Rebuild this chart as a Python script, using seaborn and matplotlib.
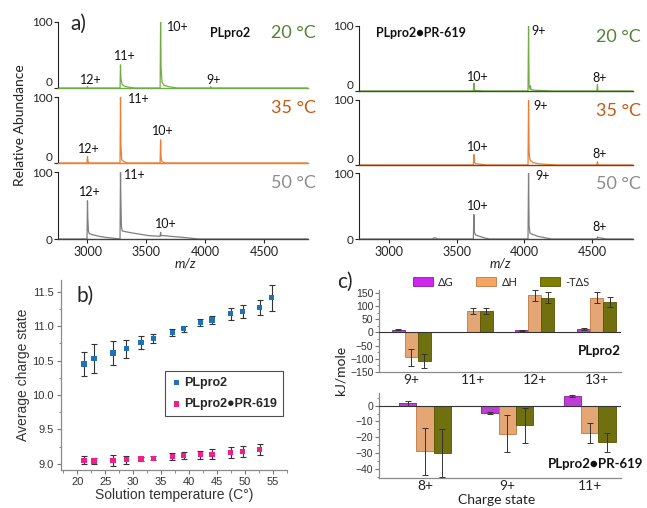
import numpy as np
import pandas as pd
import matplotlib
matplotlib.use("Agg")
import matplotlib.pyplot as plt
from matplotlib.patches import Patch
from matplotlib.container import BarContainer
from matplotlib.ticker import MultipleLocator
import seaborn as sns

sns.set_theme(style="ticks")
plt.rcParams['font.family'] = ['Lato', 'DejaVu Sans']
ARIAL = ['Liberation Sans', 'DejaVu Sans']

# ---------------- data: panel a (mass spectra) ----------------
apo20_mz = [2750, 2996, 3000, 3004, 3276, 3280, 3284, 3292, 3310, 3340, 3400,
            3616, 3620, 3624, 3632, 3650, 3690, 3760, 4041, 4045, 4049, 4870]
apo20_ab = [0, 0, 2, 0, 0, 35, 14, 6, 3, 1.5, 0,
            0, 100, 30, 9, 4, 2, 0, 0, 2, 0, 0]
apo35_mz = [2750, 2996, 3000, 3004, 3010, 3276, 3280, 3284, 3290, 3310, 3340,
            3616, 3620, 3624, 3632, 3660, 4870]
apo35_ab = [0, 0, 10, 3, 0, 0, 100, 25, 5, 2, 0,
            0, 35, 8, 2, 0, 0]
apo50_mz = [2750, 2996, 3000, 3003, 3008, 3015, 3050, 3100, 3150, 3200, 3250,
            3276, 3280, 3283, 3288, 3295, 3320, 3380, 3450, 3520, 3616, 3620,
            3624, 3650, 3700, 3780, 3860, 3940, 4870]
apo50_ab = [0, 0, 57, 30, 12, 8, 6, 4, 2.5, 1.5, 0.5,
            0, 100, 60, 18, 12, 11, 9, 7, 5, 4, 10,
            5, 5, 4, 3, 1.5, 0, 0]

holo20_mz = [2780, 3623, 3627, 3631, 3700, 4026, 4030, 4034, 4040, 4044, 4048,
             4060, 4100, 4200, 4534, 4538, 4542, 4800]
holo20_ab = [0, 0, 12, 1, 0, 0, 100, 8, 3, 8, 2,
             1.5, 1, 0, 0, 10, 0, 0]
holo35_mz = [2780, 3623, 3627, 3631, 3640, 3680, 3720, 4026, 4030, 4034, 4040,
             4060, 4100, 4160, 4240, 4534, 4538, 4542, 4800]
holo35_ab = [0, 0, 16, 4, 2, 1, 0, 0, 100, 20, 8,
             4, 2, 1, 0, 0, 5, 0, 0]
holo50_mz = [2780, 3320, 3330, 3345, 3360, 3623, 3627, 3631, 3640, 3670, 3700,
             3740, 4026, 4030, 4034, 4040, 4060, 4100, 4150, 4200, 4534, 4538,
             4545, 4580, 4600, 4800]
holo50_ab = [0, 0, 1.5, 1.5, 0, 0, 37, 10, 6, 4, 2,
             0, 0, 100, 20, 9, 7, 4, 2, 0, 0, 3,
             2, 1, 0, 0]

temps_label = ["20 °C", "35 °C", "50 °C"]
mz_ticks = [3000, 3500, 4000, 4500]

# peak labels: (text, m/z, abundance)
apo_labels = [
    [("12+", 3025, 12), ("11+", 3314, 48), ("10+", 3763, 92), ("9+", 4068, 12)],
    [("12+", 3008, 21), ("11+", 3432, 97), ("10+", 3640, 48)],
    [("12+", 3017, 70), ("11+", 3398, 95), ("10+", 3661, 22)],
]
holo_labels = [
    [("10+", 3657, 22), ("9+", 4101, 92), ("8+", 4553, 20)],
    [("10+", 3657, 28), ("9+", 4116, 91), ("8+", 4553, 17)],
    [("10+", 3653, 50), ("9+", 4131, 95), ("8+", 4553, 18)],
]

# ---------------- data: panel b ----------------
temp_apo = [21.2, 23.0, 26.4, 28.8, 31.4, 33.6, 37.0, 39.0, 42.0, 44.1, 47.4, 49.6, 52.6, 54.8]
z_apo = [10.45, 10.53, 10.61, 10.67, 10.76, 10.82, 10.91, 10.96, 11.05, 11.09, 11.18, 11.21, 11.27, 11.41]
err_apo = [0.18, 0.21, 0.18, 0.13, 0.09, 0.07, 0.05, 0.04, 0.05, 0.06, 0.09, 0.09, 0.11, 0.19]
temp_holo = [21.2, 23.0, 26.4, 28.8, 31.4, 33.6, 37.0, 39.0, 42.0, 44.1, 47.4, 49.6, 52.6]
z_holo = [9.05, 9.04, 9.05, 9.06, 9.07, 9.08, 9.11, 9.12, 9.13, 9.14, 9.17, 9.18, 9.21]
err_holo = [0.06, 0.05, 0.08, 0.06, 0.03, 0.03, 0.05, 0.05, 0.06, 0.07, 0.08, 0.08, 0.08]

# ---------------- data: panel c ----------------
terms = ["ΔG", "ΔH", "-TΔS"]
top_charges = ["9+", "11+", "12+", "13+"]
top_dG = [11, 2, 9, 14]
top_dG_err = [3, 1, 2, 3]
top_dH = [-95, 81, 141, 132]
top_dH_err = [33, 11, 21, 21]
top_TdS = [-108, 80, 131, 116]
top_TdS_err = [28, 11, 21, 20]

bot_charges = ["8+", "9+", "11+"]
bot_dG = [1.5, -4.8, 6.3]
bot_dG_err = [1.5, 0.5, 0.7]
bot_dH = [-28.8, -17.7, -17.0]
bot_dH_err = [15, 11.6, 6.3]
bot_TdS = [-30.0, -12.4, -23.2]
bot_TdS_err = [15, 11, 6]

# ---------------- styling ----------------
W, H = 647, 508
line_cols = ['#70ad47', '#ed7d31', '#7f7f7f']
text_cols = ['#548235', '#c55a11', '#8c8c8c']
base_cols_holo = ['#375623', '#843c0c', '#7f7f7f']
bar_cols = ['#d024f2', '#f5a462', '#808000']
bar_edges = ['#8a1aa0', '#c07840', '#555500']
blue = '#1f72b8'
pink = '#f0208a'


def rect(x0, y0, x1, y1):
    return [x0 / W, 1 - y1 / H, (x1 - x0) / W, (y1 - y0) / H]


fig = plt.figure(figsize=(W / 100, H / 100), dpi=100)

rows_left = [(22, 88), (97, 163), (172, 239)]
rows_right = [(26, 91), (100, 165), (173, 239)]
spectra_apo = [(apo20_mz, apo20_ab), (apo35_mz, apo35_ab), (apo50_mz, apo50_ab)]
spectra_holo = [(holo20_mz, holo20_ab), (holo35_mz, holo35_ab), (holo50_mz, holo50_ab)]


def spec_panel(box, xlim, mz, ab, col, basecol, show_x):
    ax = fig.add_axes(box)
    ax.set_facecolor('none')
    sns.lineplot(x=mz, y=ab, ax=ax, color=col, linewidth=0.9,
                 estimator=None, sort=False)
    ax.set_xlim(*xlim)
    ax.set_ylim(0, 100)
    ax.spines['top'].set_visible(False)
    ax.spines['right'].set_visible(False)
    ax.spines['left'].set_color('#222222')
    ax.spines['left'].set_linewidth(0.8)
    ax.spines['bottom'].set_color(basecol)
    ax.spines['bottom'].set_linewidth(1.0)
    ax.set_yticks([0, 100])
    ax.tick_params(axis='y', direction='out', length=3, width=0.8,
                   labelsize=8.5, pad=1, colors='#222222')
    if show_x:
        ax.set_xticks(mz_ticks)
        ax.tick_params(axis='x', direction='out', length=3, width=0.8,
                       labelsize=9, pad=2, colors='#222222')
        ax.spines['bottom'].set_color('#444444')
    else:
        ax.set_xticks([])
        # keep the "0" label clear of the "100" label of the panel below
        ax.get_yticklabels()[0].set_va('bottom')
    ax.set_xlabel('')
    ax.set_ylabel('')
    return ax


for i in range(3):
    y0, y1 = rows_left[i]
    mz, ab = spectra_apo[i]
    ax = spec_panel(rect(58, y0, 308, y1), (2750, 4870), mz, ab,
                    line_cols[i], line_cols[i], i == 2)
    for t, x, y in apo_labels[i]:
        ax.text(x, y, t, ha='center', va='center', fontsize=9, color='#111111')
    ax.text(4746, 83, temps_label[i], ha='center', va='center', fontsize=13,
            color=text_cols[i], clip_on=False)
    if i == 0:
        ax.text(4212, 83, "PLpro2", ha='center', va='center', fontsize=9,
                fontweight='bold', color='#111111')

for i in range(3):
    y0, y1 = rows_right[i]
    mz, ab = spectra_holo[i]
    ax = spec_panel(rect(359, y0, 633, y1), (2780, 4800), mz, ab,
                    line_cols[i], base_cols_holo[i], i == 2)
    for t, x, y in holo_labels[i]:
        ax.text(x, y, t, ha='center', va='center', fontsize=9, color='#111111')
    ax.text(4690, 83, temps_label[i], ha='center', va='center', fontsize=13,
            color=text_cols[i], clip_on=False)
    if i == 0:
        ax.text(3234, 89, "PLpro2●PR-619", ha='center', va='center', fontsize=9,
                fontweight='bold', color='#111111')

fig.text(78 / W, 1 - 24 / H, "a)", fontsize=15, ha='center', va='center')
fig.text(20 / W, 1 - 125 / H, "Relative Abundance", rotation=90, fontsize=10,
         ha='center', va='center', color='#222222')
fig.text(185 / W, 1 - 263 / H, "m/z", style='italic', fontsize=9.5,
         ha='center', va='center', color='#222222')
fig.text(500 / W, 1 - 263 / H, "m/z", style='italic', fontsize=9.5,
         ha='center', va='center', color='#222222')

# ---------------- panel b ----------------
axb = fig.add_axes(rect(61, 280, 287, 470))
axb.set_facecolor('none')
axb.errorbar(temp_apo, z_apo, yerr=err_apo, fmt='none', ecolor='#333333',
             elinewidth=0.8, capsize=2, capthick=0.8, zorder=2)
axb.errorbar(temp_holo, z_holo, yerr=err_holo, fmt='none', ecolor='#333333',
             elinewidth=0.8, capsize=2, capthick=0.8, zorder=2)
sns.scatterplot(x=temp_apo, y=z_apo, marker='s', s=14, color=blue,
                edgecolor='none', ax=axb, label='PLpro2', zorder=3)
sns.scatterplot(x=temp_holo, y=z_holo, marker='s', s=14, color=pink,
                edgecolor='none', ax=axb, label='PLpro2●PR-619', zorder=3)
axb.set_xlim(17.1, 57.5)
axb.set_ylim(8.91, 11.67)
axb.set_xticks([20, 25, 30, 35, 40, 45, 50, 55])
axb.set_yticks([9.0, 9.5, 10.0, 10.5, 11.0, 11.5])
axb.xaxis.set_minor_locator(MultipleLocator(2.5))
axb.yaxis.set_minor_locator(MultipleLocator(0.25))
axb.set_yticklabels([f"{v:.1f}" for v in [9.0, 9.5, 10.0, 10.5, 11.0, 11.5]])
for s in ['top', 'right']:
    axb.spines[s].set_visible(False)
for s in ['left', 'bottom']:
    axb.spines[s].set_color('#8a8a8a')
    axb.spines[s].set_linewidth(0.9)
axb.tick_params(which='major', direction='out', length=3, width=0.8,
                color='#777777', labelsize=8, labelcolor='#333333', pad=2)
axb.tick_params(which='minor', direction='out', length=1.8, width=0.6,
                color='#777777')
for lbl in axb.get_xticklabels() + axb.get_yticklabels():
    lbl.set_family(ARIAL)
axb.set_xlabel("Solution temperature (C°)", fontsize=10, family=ARIAL,
               color='#333333', labelpad=0.5)
axb.set_ylabel("Average charge state", fontsize=10, family=ARIAL,
               color='#333333', labelpad=2)
leg = axb.legend(loc='upper right', bbox_to_anchor=(289 / W, 1 - 365 / H),
                 bbox_transform=fig.transFigure, frameon=True, fancybox=False,
                 edgecolor='#222222', prop={'family': ARIAL, 'weight': 'bold', 'size': 9},
                 handletextpad=0.1, borderpad=0.45, labelspacing=0.75,
                 handlelength=1.0, markerscale=1.0)
leg.get_frame().set_linewidth(0.8)
fig.text(85 / W, 1 - 296 / H, "b)", fontsize=15, ha='center', va='center')

# ---------------- panel c ----------------
def bar_panel(box, charges, vals, errs, xlim, ylim, yticks, minor):
    ax = fig.add_axes(box)
    ax.set_facecolor('none')
    df = pd.DataFrame({
        'charge': charges * 3,
        'term': [terms[0]] * len(charges) + [terms[1]] * len(charges) + [terms[2]] * len(charges),
        'value': vals[0] + vals[1] + vals[2],
    })
    sns.barplot(data=df, x='charge', y='value', hue='term', order=charges,
                hue_order=terms, palette=bar_cols, width=0.63, gap=0,
                errorbar=None, linewidth=0.6, ax=ax, legend=False)
    bars = [c for c in ax.containers if isinstance(c, BarContainer)]
    for k, cont in enumerate(bars):
        xs = []
        for p in cont:
            p.set_edgecolor(bar_edges[k])
            xs.append(p.get_x() + p.get_width() / 2)
        ax.errorbar(xs, vals[k], yerr=errs[k], fmt='none', ecolor='#333333',
                    elinewidth=0.7, capsize=2, capthick=0.7, zorder=4)
    ax.axhline(0, color='#333333', linewidth=0.8, zorder=3)
    ax.set_xlim(*xlim)
    ax.set_ylim(*ylim)
    ax.set_yticks(yticks)
    ax.yaxis.set_minor_locator(MultipleLocator(minor))
    for s in ['top', 'right']:
        ax.spines[s].set_visible(False)
    for s in ['left', 'bottom']:
        ax.spines[s].set_color('#8a8a8a')
        ax.spines[s].set_linewidth(0.9)
    ax.tick_params(axis='y', which='major', direction='out', length=3, width=0.8,
                   color='#777777', labelsize=7.5, labelcolor='#333333', pad=1)
    ax.tick_params(axis='y', which='minor', direction='out', length=1.8,
                   width=0.6, color='#777777')
    ax.tick_params(axis='x', length=0, labelsize=10, pad=1.5, labelcolor='#222222')
    for lbl in ax.get_yticklabels():
        lbl.set_family(ARIAL)
    ax.set_xlabel('')
    ax.set_ylabel('')
    return ax


axc1 = bar_panel(rect(379, 290, 621, 372), top_charges,
                 [top_dG, top_dH, top_TdS], [top_dG_err, top_dH_err, top_TdS_err],
                 (-0.52, 3.39), (-150, 161), [-150, -100, -50, 0, 50, 100, 150], 25)
axc1.text(3.39, -70, "PLpro2", ha='right', va='center', fontsize=9.5,
          fontweight='bold', color='#111111')

axc2 = bar_panel(rect(379, 393, 621, 478), bot_charges,
                 [bot_dG, bot_dH, bot_TdS], [bot_dG_err, bot_dH_err, bot_TdS_err],
                 (-0.56, 2.38), (-45.7, 8), [-40, -30, -20, -10, 0], 5)
fig.text(643 / W, 1 - 464 / H, "PLpro2●PR-619", ha='right', va='center',
         fontsize=9.5, fontweight='bold', color='#111111')

handles = [Patch(facecolor=bar_cols[k], edgecolor=bar_edges[k], linewidth=0.6)
           for k in range(3)]
fig.legend(handles, terms, loc='center', bbox_to_anchor=(501 / W, 1 - 282 / H),
           ncol=3, frameon=False, fontsize=8, handlelength=1.8, handleheight=0.9,
           handletextpad=0.5, columnspacing=2.0)
fig.text(345 / W, 1 - 282 / H, "c)", fontsize=15, ha='center', va='center')
fig.text(340 / W, 1 - 370 / H, "kJ/mole", rotation=90, fontsize=10,
         ha='center', va='center', color='#222222')
fig.text(497 / W, 1 - 500 / H, "Charge state", fontsize=10,
         ha='center', va='center', color='#222222')

fig.savefig("out.png", dpi=100)
